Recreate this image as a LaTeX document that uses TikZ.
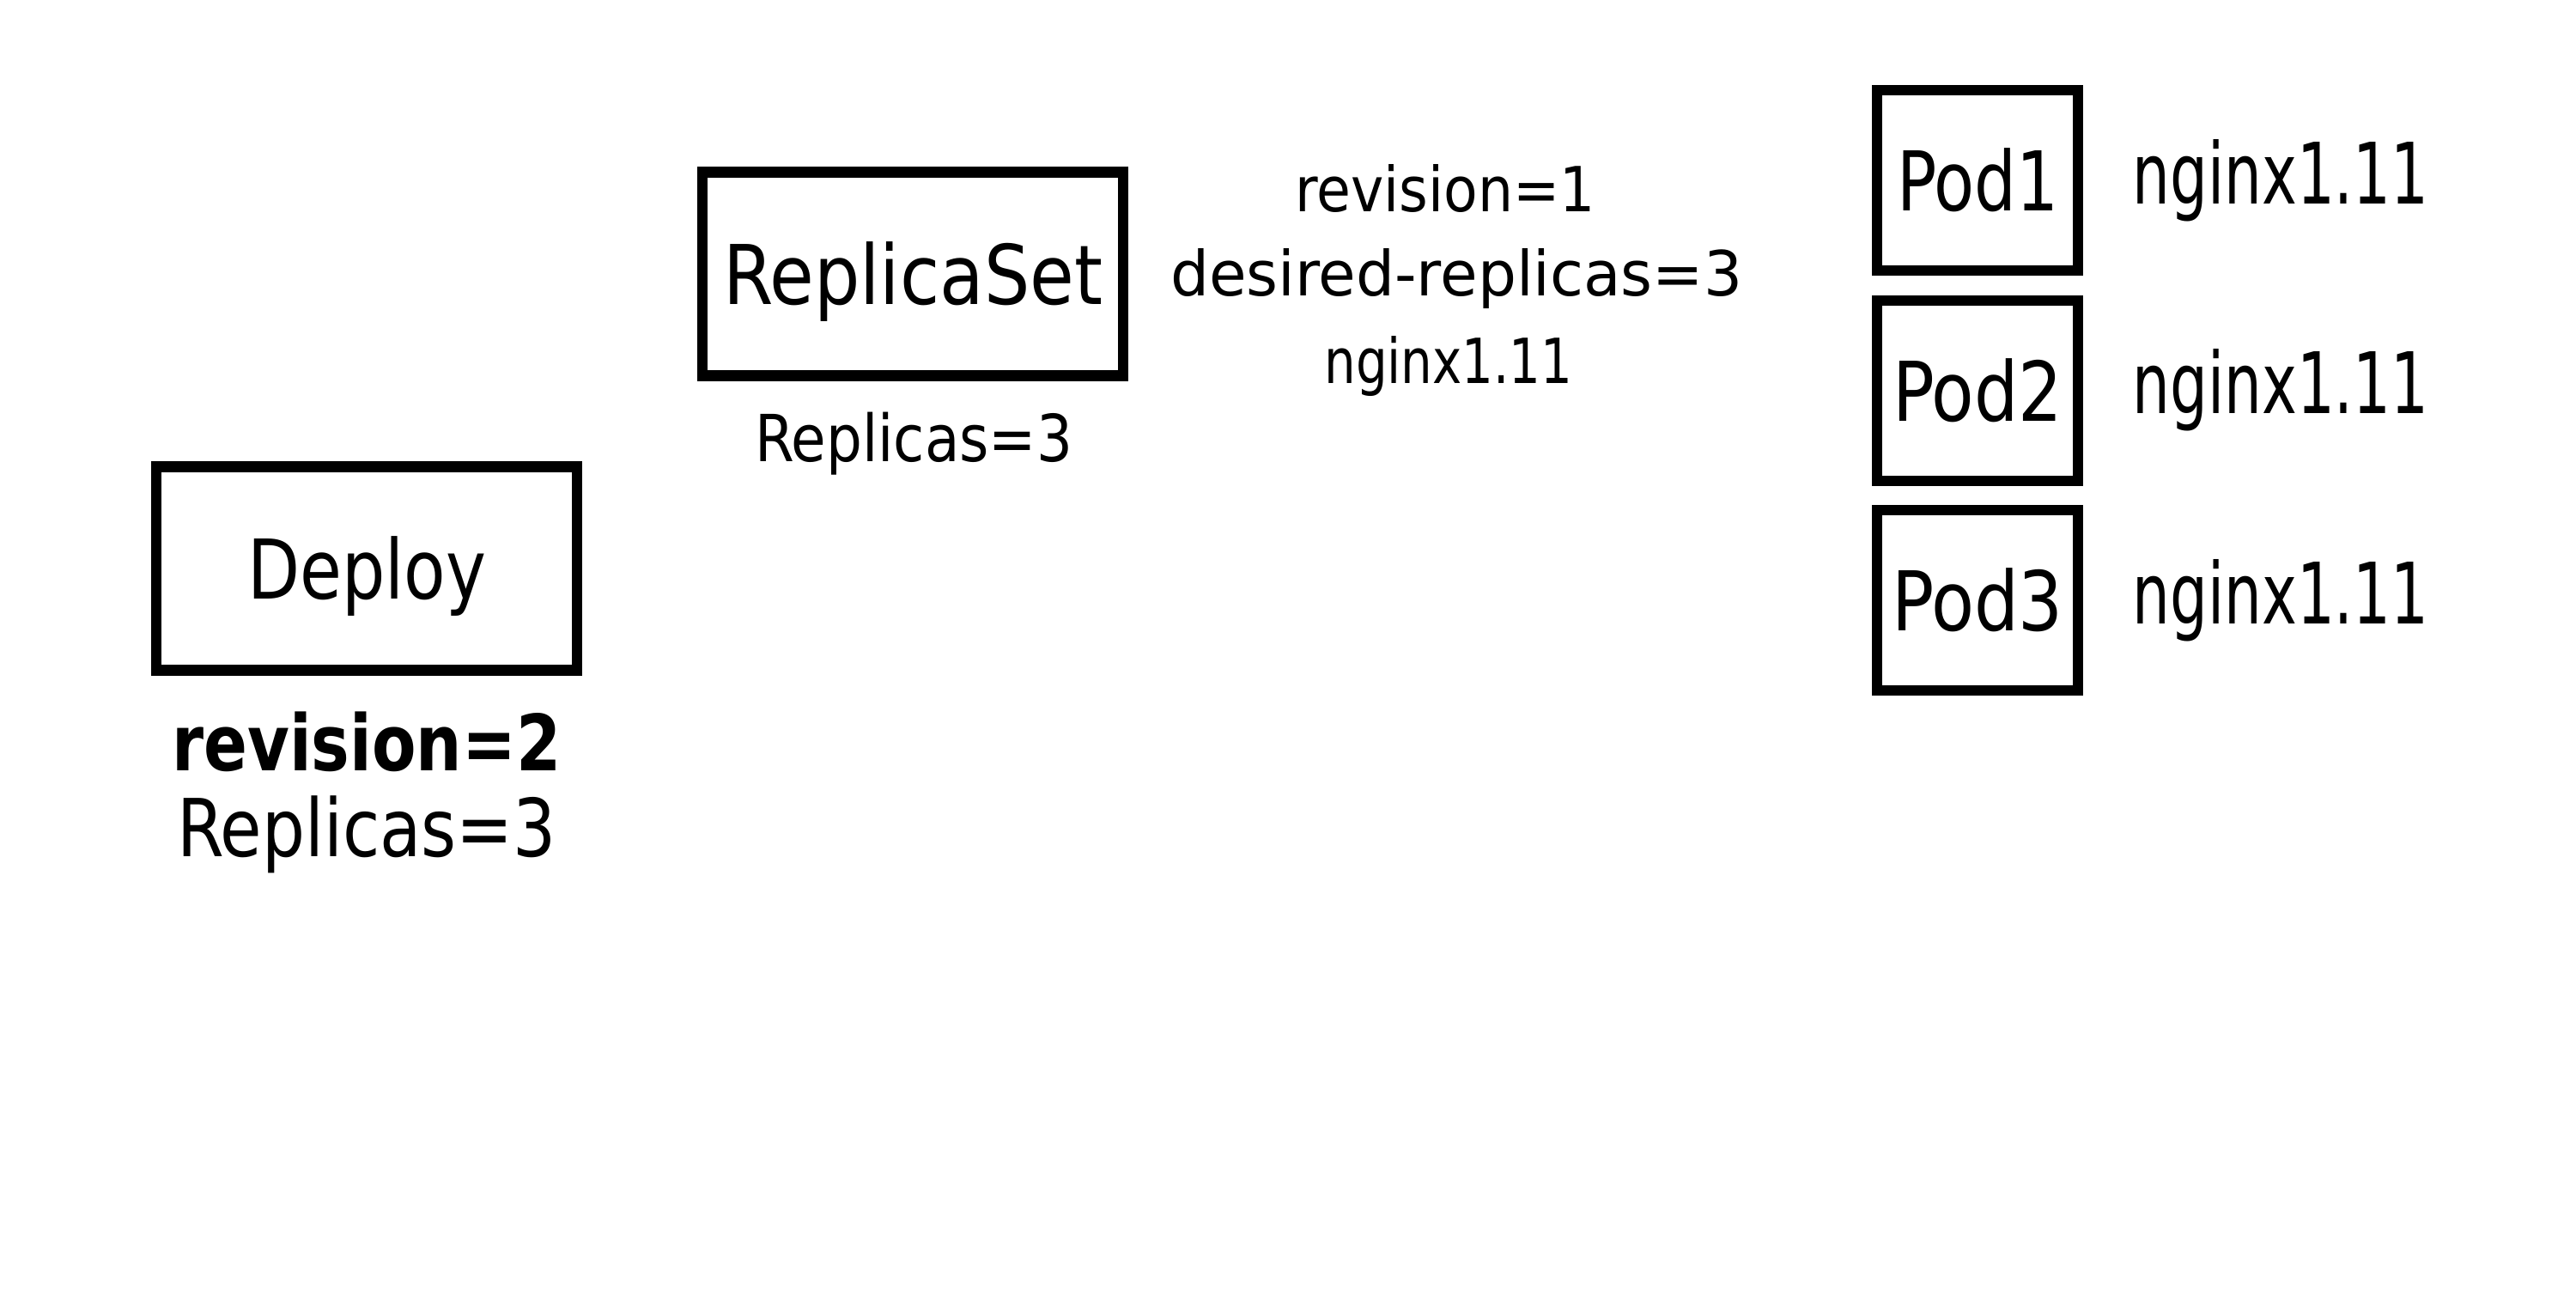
\documentclass[tikz,border=0pt]{standalone}
\usepackage{fontspec}
\setmainfont{DejaVu Sans Condensed}
\usepackage{graphicx}
\newlength\fitlen
\newcommand\fitx[2]{\settowidth\fitlen{#2}\pgfmathsetmacro\fitratio{#1/\fitlen}\scalebox{\fitratio}[1]{#2}}
\tikzset{
  objbox/.style={draw, line width=3.56pt, minimum width=4.90cm, minimum height=2.37cm,
    inner sep=0pt, text height=0.70cm, text depth=0pt,
    font=\fontsize{27.3pt}{32pt}\selectfont},
  podbox/.style={objbox, minimum width=2.34cm, minimum height=2.10cm},
  lbl/.style={anchor=base, inner sep=0pt},
  biglbl/.style={lbl, font=\fontsize{26.5pt}{31pt}\selectfont},
  midlbl/.style={lbl, font=\fontsize{20.6pt}{24pt}\selectfont},
  smlbl/.style={lbl, font=\fontsize{21.5pt}{25pt}\selectfont},
  imglbl/.style={anchor=base west, inner sep=0pt, font=\fontsize{28.1pt}{33pt}\selectfont}
}
\begin{document}
\begin{tikzpicture}
\useasboundingbox (0,0) rectangle (30,-15);
\fill[white] (0,0) rectangle (30,-15);

% boxes
\node[objbox] (deploy) at (4.27,-6.62) {\fitx{2.78cm}{Deploy}};
\node[objbox] (rs) at (10.63,-3.19) {\fitx{4.42cm}{ReplicaSet}};
\node[podbox] (pod1) at (23.03,-2.10) {\fitx{1.88cm}{Pod1}};
\node[podbox] (pod2) at (23.03,-4.55) {\fitx{1.98cm}{Pod2}};
\node[podbox] (pod3) at (23.03,-6.99) {\fitx{2.00cm}{Pod3}};

% deploy labels
\node[lbl, font=\bfseries\fontsize{25.7pt}{30pt}\selectfont] (rev2) at (4.27,-8.97) {\fitx{4.53cm}{revision=2}};
\node[biglbl] (deprep) at (4.27,-9.97) {\fitx{4.42cm}{Replicas=3}};

% replicaset labels
\node[smlbl] (rsrep) at (10.64,-5.37) {\fitx{3.70cm}{Replicas=3}};
\node[midlbl] (rev1) at (16.83,-2.46) {\fitx{3.49cm}{revision=1}};
\node[midlbl] (desired) at (16.96,-3.44) {\fitx{6.66cm}{desired-replicas=3}};
\node[midlbl] (rsimg) at (16.87,-4.46) {\fitx{2.89cm}{nginx1.11}};

% pod images
\node[imglbl] (img1) at (24.83,-2.37) {\fitx{3.45cm}{nginx1.11}};
\node[imglbl] (img2) at (24.83,-4.81) {\fitx{3.45cm}{nginx1.11}};
\node[imglbl] (img3) at (24.83,-7.26) {\fitx{3.45cm}{nginx1.11}};
\end{tikzpicture}
\end{document}
